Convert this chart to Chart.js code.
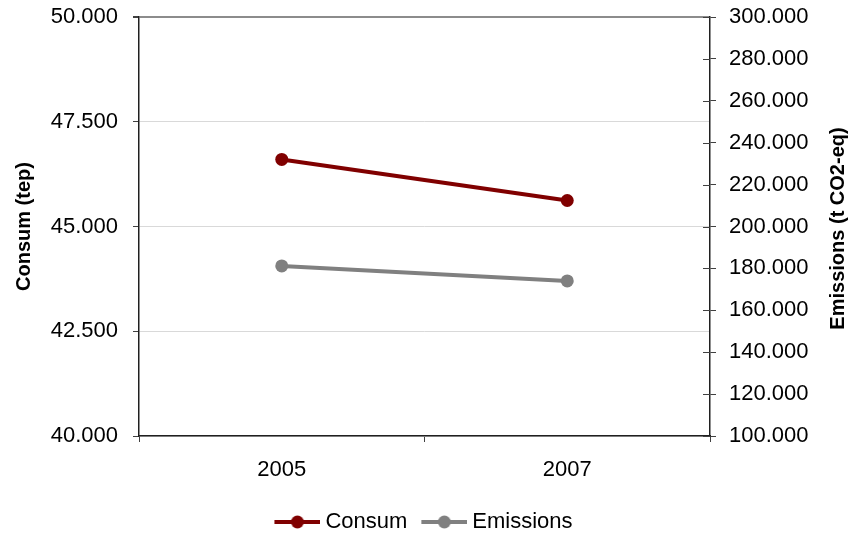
<!DOCTYPE html>
<html>
<head>
<meta charset="utf-8">
<script src="https://cdn.jsdelivr.net/npm/chart.js@4.4.1/dist/chart.umd.min.js"></script>
<style>
  html, body { margin: 0; padding: 0; background: #fff; }
  #wrap { width: 850px; height: 533px; }
</style>
</head>
<body>
<div id="wrap"><canvas id="c" width="850" height="533"></canvas></div>
<script>
const categories = ['2005', '2007'];
const consumValues = [46600, 45620];
const emissionsValues = [181200, 174000];
const seriesNames = ['Consum', 'Emissions'];
const leftAxisTitle = 'Consum (tep)';
const rightAxisTitle = 'Emissions (t CO2-eq)';

const RED = '#800000';
const GRAY = '#808080';
const FONT = '"Liberation Sans", Arial, sans-serif';

function fmt(v) {
  const s = Math.round(v).toString();
  return s.replace(/\B(?=(\d{3})+(?!\d))/g, '.');
}

function legendIcon(color) {
  const cv = document.createElement('canvas');
  cv.width = 49; cv.height = 14;
  const g = cv.getContext('2d');
  g.strokeStyle = color; g.lineWidth = 4;
  g.beginPath(); g.moveTo(3, 7); g.lineTo(49, 7); g.stroke();
  g.fillStyle = color;
  g.beginPath(); g.arc(26, 7, 6.5, 0, Math.PI * 2); g.fill();
  return cv;
}
const icons = [legendIcon(RED), legendIcon(GRAY)];

const extrasPlugin = {
  id: 'extras',
  afterDraw(chart) {
    const ctx = chart.ctx;
    const yR = chart.scales.yR;
    ctx.save();
    ctx.strokeStyle = '#404040';
    ctx.lineWidth = 1;
    yR.ticks.forEach((t, i) => {
      const y = Math.round(yR.getPixelForTick(i)) + 0.5;
      ctx.beginPath();
      ctx.moveTo(yR.left - 7, y);
      ctx.lineTo(yR.left, y);
      ctx.stroke();
    });
    const ca = chart.chartArea;
    ctx.translate(838, (ca.top + ca.bottom) / 2 + 2);
    ctx.rotate(-Math.PI / 2);
    ctx.fillStyle = '#000';
    ctx.font = 'bold 20px ' + FONT;
    ctx.textAlign = 'center';
    ctx.textBaseline = 'middle';
    ctx.fillText(rightAxisTitle, 0, 0);
    ctx.restore();
  }
};

function noPad(s) { s.paddingTop = 0; s.paddingBottom = 0; }

new Chart(document.getElementById('c'), {
  type: 'line',
  data: {
    labels: categories,
    datasets: [
      {
        label: seriesNames[0],
        data: consumValues,
        yAxisID: 'yL',
        borderColor: RED,
        backgroundColor: RED,
        borderWidth: 4,
        pointRadius: 6.5,
        pointHoverRadius: 6.5,
        pointBackgroundColor: RED,
        pointBorderWidth: 0,
        tension: 0
      },
      {
        label: seriesNames[1],
        data: emissionsValues,
        yAxisID: 'yR',
        borderColor: GRAY,
        backgroundColor: GRAY,
        borderWidth: 4,
        pointRadius: 6.5,
        pointHoverRadius: 6.5,
        pointBackgroundColor: GRAY,
        pointBorderWidth: 0,
        tension: 0
      }
    ]
  },
  options: {
    responsive: false,
    animation: false,
    devicePixelRatio: 1,
    layout: { padding: { top: 17, left: 0, right: 0, bottom: -10 } },
    font: { family: FONT },
    plugins: {
      tooltip: { enabled: false },
      legend: {
        position: 'bottom',
        labels: {
          color: '#000',
          font: { family: FONT, size: 22 },
          usePointStyle: true,
          pointStyleWidth: 37,
          boxHeight: 14,
          padding: 17,
          generateLabels(chart) {
            return chart.data.datasets.map((ds, i) => ({
              text: ds.label,
              pointStyle: icons[i],
              fillStyle: ds.borderColor,
              strokeStyle: ds.borderColor,
              lineWidth: 0,
              hidden: false,
              datasetIndex: i,
              fontColor: '#000'
            }));
          }
        }
      }
    },
    scales: {
      x: {
        type: 'category',
        offset: true,
        afterFit(s) { s.height = 58; },
        grid: {
          offset: true,
          drawOnChartArea: false,
          drawTicks: true,
          tickLength: 6,
          tickColor: '#404040'
        },
        border: { display: true, color: '#202020', width: 1.5 },
        ticks: {
          color: '#000',
          font: { family: FONT, size: 22 },
          padding: 15,
          maxRotation: 0
        }
      },
      yL: {
        type: 'linear',
        position: 'left',
        min: 40000,
        max: 50000,
        afterFit(s) { s.width = 139; noPad(s); },
        ticks: {
          stepSize: 2500,
          color: '#000',
          font: { family: FONT, size: 22 },
          padding: 15,
          callback: (v) => fmt(v)
        },
        grid: {
          drawOnChartArea: true,
          color: (c) => (c.tick && c.tick.value === 50000 ? '#8c8c8c' : '#d9d9d9'),
          lineWidth: (c) => (c.tick && c.tick.value === 50000 ? 2 : 1),
          tickLength: 6,
          tickColor: '#404040'
        },
        border: { display: true, color: '#202020', width: 1.5 },
        title: {
          display: true,
          text: leftAxisTitle,
          color: '#000',
          font: { family: FONT, size: 20, weight: 'bold' },
          padding: { top: 12, bottom: 0 }
        }
      },
      yR: {
        type: 'linear',
        position: 'right',
        min: 100000,
        max: 300000,
        afterFit(s) { s.width = 140; noPad(s); },
        ticks: {
          stepSize: 20000,
          color: '#000',
          font: { family: FONT, size: 22 },
          padding: 13,
          callback: (v) => fmt(v)
        },
        grid: {
          drawOnChartArea: false,
          tickLength: 6,
          tickColor: '#404040'
        },
        border: { display: true, color: '#202020', width: 1.5 }
      }
    }
  },
  plugins: [extrasPlugin]
});
</script>
</body>
</html>
